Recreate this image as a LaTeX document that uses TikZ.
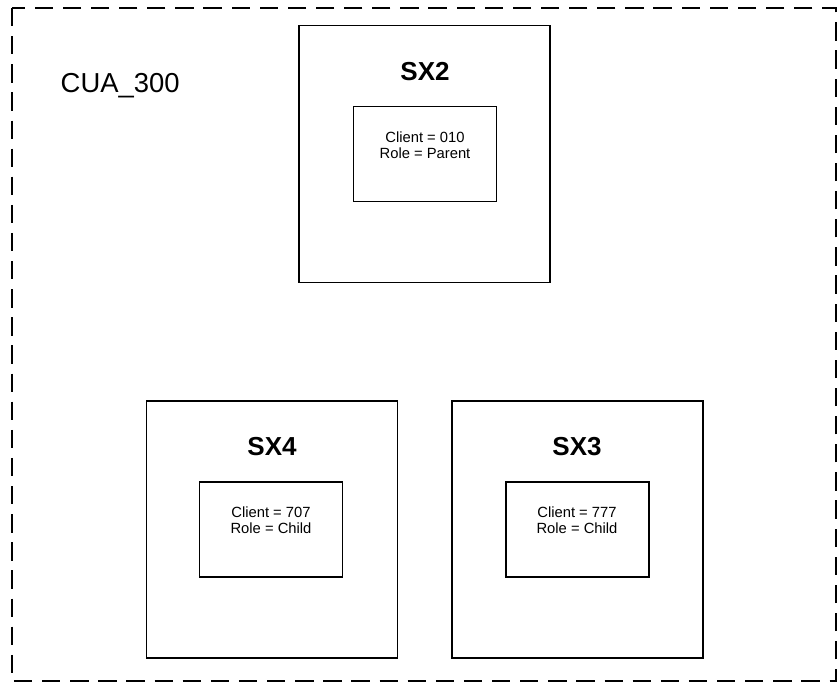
\documentclass[tikz,border=0pt]{standalone}
\usepackage{fontspec}
\setmainfont{Liberation Sans}
\usepackage{tikz}

\begin{document}
\begin{tikzpicture}[x=0.025cm, y=-0.025cm, line width=1pt]
  \tikzset{
    outerbox/.style={draw, rectangle, minimum width=6.27cm, minimum height=6.43cm, inner sep=0pt},
    innerbox/.style={draw, rectangle, minimum width=3.58cm, minimum height=2.37cm, inner sep=0pt},
    title/.style={font=\fontsize{18.5}{22}\selectfont\bfseries},
    info/.style={font=\fontsize{10.5}{11.5}\selectfont, align=center}
  }
  \useasboundingbox (0,0) rectangle (840,685);
  % Dashed outer frame
  \draw[line width=0.8pt, dash pattern=on 13pt off 7pt] (12,8) rectangle (836,681);
  \node[font=\fontsize{19.5}{22}\selectfont, anchor=west, inner sep=0pt] (cua) at (60,86) {CUA\_300};
  % SX2 (top)
  \node[outerbox] (sx2) at (424.5,154) {};
  \node[title] (sx2t) at (425,72) {SX2};
  \node[innerbox] (sx2i) at (425,154) {};
  \node[info] (sx2c) at (425,145) {Client = 010\\Role = Parent};
  % SX4 (bottom left)
  \node[outerbox] (sx4) at (272,529.5) {};
  \node[title] (sx4t) at (272,447) {SX4};
  \node[innerbox] (sx4i) at (271,529.5) {};
  \node[info] (sx4c) at (271,520) {Client = 707\\Role = Child};
  % SX3 (bottom right)
  \node[outerbox] (sx3) at (577.5,529.5) {};
  \node[title] (sx3t) at (577,447) {SX3};
  \node[innerbox] (sx3i) at (577.5,529.5) {};
  \node[info] (sx3c) at (577,520) {Client = 777\\Role = Child};
\end{tikzpicture}
\end{document}
